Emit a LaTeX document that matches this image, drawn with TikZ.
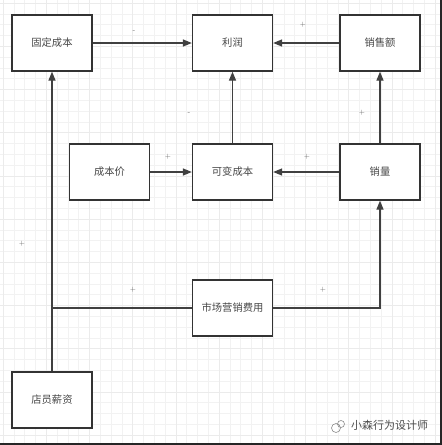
\documentclass[tikz,border=0pt]{standalone}
\usepackage{fontspec}
\newfontfamily\cjk{Noto Sans CJK SC}
\usetikzlibrary{arrows.meta}
\begin{document}
\begin{tikzpicture}[x=1pt,y=-1pt,
  box/.style={draw=black!80,line width=1.3pt,fill=white,minimum width=80pt,minimum height=56pt,inner sep=0pt,font=\cjk\fontsize{10.3}{12}\selectfont,text=black!72},
  conn/.style={draw=black!75,line width=1.3pt},
  arr/.style={conn,-{Triangle[length=9pt,width=7pt]}},
  sign/.style={font=\fontsize{7}{7}\selectfont,text=black!60,inner sep=0pt}]
\useasboundingbox (0,0) rectangle (442,445);
\fill[white] (0,0) rectangle (442,445);
% grid
\foreach \i in {0,...,41} {
  \draw[black!5,line width=0.5pt] ({\i*10.8+3},0) -- ({\i*10.8+3},445);
  \draw[black!5,line width=0.5pt] (0,{\i*10.8+3}) -- (442,{\i*10.8+3});
}
\foreach \i in {0,...,10} {
  \draw[black!8,line width=0.6pt] ({\i*43.2+3},0) -- ({\i*43.2+3},445);
  \draw[black!8,line width=0.6pt] (0,{\i*43.2+3}) -- (442,{\i*43.2+3});
}
% nodes
\node[box] (fixed) at (52,43) {固定成本};
\node[box] (profit) at (232.5,43) {利润};
\node[box] (sales) at (380,43) {销售额};
\node[box] (price) at (109.5,172) {成本价};
\node[box] (var) at (232.5,172) {可变成本};
\node[box] (vol) at (380,172) {销量};
\node[box] (mkt) at (232.5,308) {市场营销费用};
\node[box] (staff) at (52,400) {店员薪资};
\coordinate (j1) at (52,308);
\coordinate (j2) at (380,308);
% connectors
\draw[arr] (fixed) -- (profit);
\draw[arr] (sales) -- (profit);
\draw[arr] (var) -- (profit);
\draw[arr] (price) -- (var);
\draw[arr] (vol) -- (var);
\draw[arr] (vol) -- (sales);
\draw[arr] (staff) -- (fixed);
\draw[conn] (mkt.west) -- (j1);
\draw[arr] (mkt.east) -- (j2) -- (vol.south);
% signs
\node[sign] at (134,32) {-};
\node[sign] at (303,25) {+};
\node[sign] at (189,114) {-};
\node[sign] at (168,157) {+};
\node[sign] at (307,157) {+};
\node[sign] at (362,113) {+};
\node[sign] at (22,244) {+};
\node[sign] at (133,290) {+};
\node[sign] at (323,290) {+};
% watermark
\node[font=\cjk\fontsize{11}{11}\selectfont,text=black!70,inner sep=0pt,anchor=west] (wm) at (351,425) {小森行为设计师};
\draw[black!45,line width=0.6pt] (336,428) circle (4.5pt);
\draw[black!45,line width=0.6pt] (341,424) circle (3.5pt);
% borders
\draw[black!85,line width=1.5pt] (441.2,0) -- (441.2,444.2) -- (0,444.2);
\end{tikzpicture}
\end{document}
